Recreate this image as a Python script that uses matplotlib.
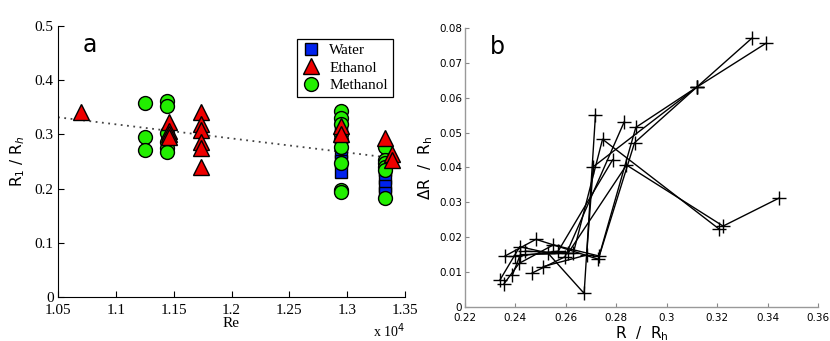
import matplotlib
matplotlib.use("Agg")
import matplotlib.pyplot as plt

# panel a: Re (actual values) vs R1/Rh
water_re = [12950, 12950, 12950, 12950, 12950, 13330, 13330, 13330, 13330, 13330]
water_r1 = [0.320, 0.300, 0.268, 0.250, 0.231, 0.245, 0.234, 0.219, 0.204, 0.192]

ethanol_re = [10700, 11460, 11460, 11460, 11460, 11735, 11735, 11735, 11735, 11735, 11735,
              12950, 12950, 13330, 13385, 13385]
ethanol_r1 = [0.342, 0.322, 0.306, 0.300, 0.295, 0.342, 0.320, 0.308, 0.285, 0.274, 0.240,
              0.315, 0.300, 0.293, 0.264, 0.253]

methanol_re = [11255, 11255, 11255, 11445, 11445, 11445, 11445, 11445, 11445,
               12950, 12950, 12950, 12950, 12950, 12950, 12950, 12950, 12950,
               13330, 13330, 13330, 13330, 13330, 13330]
methanol_r1 = [0.357, 0.296, 0.271, 0.362, 0.352, 0.303, 0.285, 0.275, 0.268,
               0.343, 0.330, 0.320, 0.300, 0.290, 0.276, 0.247, 0.197, 0.193,
               0.276, 0.253, 0.247, 0.240, 0.235, 0.182]

fit_re = [10500, 13480]
fit_r1 = [0.3315, 0.2540]

# panel b: trajectories of R/Rh vs dR/Rh
traj_r = [
    [0.2339, 0.2418, 0.2529, 0.2673, 0.2718],
    [0.2355, 0.2415, 0.2551, 0.2733, 0.2873, 0.3119, 0.3394],
    [0.2359, 0.2482, 0.2729, 0.2878, 0.3119, 0.3337],
    [0.2389, 0.2420, 0.2630, 0.2746, 0.3209],
    [0.2466, 0.2597, 0.2832],
    [0.2511, 0.2683, 0.2709, 0.3119],
    [0.2400, 0.2570, 0.2786],
    [0.2440, 0.2610, 0.2841, 0.3224, 0.3445],
]
traj_dr = [
    [0.0077, 0.0173, 0.0155, 0.0039, 0.0551],
    [0.0066, 0.0125, 0.0178, 0.0146, 0.0471, 0.0630, 0.0756],
    [0.0146, 0.0194, 0.0137, 0.0515, 0.0630, 0.0770],
    [0.0092, 0.0150, 0.0154, 0.0481, 0.0223],
    [0.0097, 0.0144, 0.0531],
    [0.0116, 0.0149, 0.0402, 0.0630],
    [0.0145, 0.0160, 0.0422],
    [0.0160, 0.0155, 0.0407, 0.0232, 0.0312],
]

serif = "Liberation Serif"

fig = plt.figure(figsize=(8.3, 3.41), dpi=100)

ax1 = fig.add_axes([0.0699, 0.129, 0.4181, 0.795])
scale = 1e4
ax1.plot([v / scale for v in fit_re], fit_r1, linestyle=(0, (1, 2.5)), color="#444444", lw=1.3, zorder=1)
ms = 10
ax1.plot([v / scale for v in water_re], water_r1, "s", mfc="#0022ee", mec="black", mew=1.0,
         ms=ms - 1, label="Water", zorder=2)
ax1.plot([v / scale for v in methanol_re], methanol_r1, "o", mfc="#22ee00", mec="black", mew=1.0,
         ms=ms, label="Methanol", zorder=3)
ax1.plot([v / scale for v in ethanol_re], ethanol_r1, "^", mfc="#ee0000", mec="black", mew=1.0,
         ms=ms + 1, label="Ethanol", zorder=4)
ax1.set_xlim(1.05, 1.35)
ax1.set_ylim(0, 0.5)
ax1.set_xticks([1.05, 1.1, 1.15, 1.2, 1.25, 1.3, 1.35])
ax1.set_xticklabels(["1.05", "1.1", "1.15", "1.2", "1.25", "1.3", "1.35"])
ax1.set_yticks([0, 0.1, 0.2, 0.3, 0.4, 0.5])
ax1.set_yticklabels(["0", "0.1", "0.2", "0.3", "0.4", "0.5"])
for lab in ax1.get_xticklabels() + ax1.get_yticklabels():
    lab.set_fontfamily(serif)
    lab.set_fontsize(11)
ax1.tick_params(direction="in", length=4, width=0.8, pad=3)
ax1.tick_params(axis="x", pad=5)
ax1.spines["top"].set_visible(False)
ax1.spines["right"].set_visible(False)
ax1.set_xlabel("Re", fontfamily=serif, fontsize=11, labelpad=0)
ax1.set_ylabel("R$_1$ / R$_h$", fontsize=11, labelpad=6)
ax1.text(1.0, -0.125, "x 10$^4$", transform=ax1.transAxes, ha="right", va="center",
         fontfamily=serif, fontsize=10)
ax1.text(0.07, 0.93, "a", transform=ax1.transAxes, fontsize=17, va="center")
h, l = ax1.get_legend_handles_labels()
leg = ax1.legend([h[0], h[2], h[1]], [l[0], l[2], l[1]], loc="upper right",
                 bbox_to_anchor=(0.986, 0.98), prop={"family": serif, "size": 11},
                 fancybox=False, framealpha=1, edgecolor="black", handletextpad=0.6,
                 borderpad=0.3, labelspacing=0.25, handlelength=1.2)
leg.get_frame().set_linewidth(0.9)

ax2 = fig.add_axes([0.560, 0.0997, 0.4255, 0.8183])
for xs, ys in zip(traj_r, traj_dr):
    ax2.plot(xs, ys, "-+", color="black", lw=1.0, ms=10, mew=1.0)
ax2.set_xlim(0.22, 0.36)
ax2.set_ylim(0, 0.08)
ax2.set_xticks([0.22, 0.24, 0.26, 0.28, 0.3, 0.32, 0.34, 0.36])
ax2.set_xticklabels(["0.22", "0.24", "0.26", "0.28", "0.3", "0.32", "0.34", "0.36"])
ax2.set_yticks([0, 0.01, 0.02, 0.03, 0.04, 0.05, 0.06, 0.07, 0.08])
ax2.set_yticklabels(["0", "0.01", "0.02", "0.03", "0.04", "0.05", "0.06", "0.07", "0.08"])
ax2.tick_params(direction="in", length=3, width=0.8, labelsize=7.5, color="#888888", pad=2)
ax2.tick_params(axis="x", pad=4)
for s in ["top", "right"]:
    ax2.spines[s].set_visible(False)
for s in ["left", "bottom"]:
    ax2.spines[s].set_color("#999999")
    ax2.spines[s].set_linewidth(1.0)
ax2.set_xlabel("R  /  R$_\\mathrm{h}$", fontsize=11, labelpad=1)
ax2.set_ylabel("$\\Delta$R  /  R$_\\mathrm{h}$", fontsize=11, labelpad=3)
ax2.text(0.07, 0.93, "b", transform=ax2.transAxes, fontsize=17, va="center")

fig.savefig("out.png", dpi=100)
